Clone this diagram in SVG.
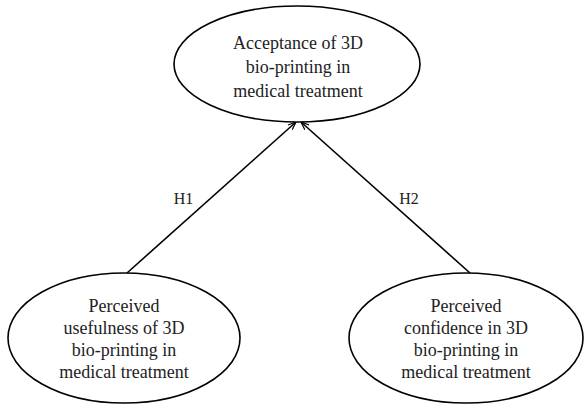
<svg xmlns="http://www.w3.org/2000/svg" width="585" height="406" viewBox="0 0 585 406">
<style>
.node ellipse{fill:#fff;stroke:#000;stroke-width:1.6}
.node text{font-family:"Liberation Serif","Times New Roman",serif;font-size:18px;fill:#222;text-anchor:middle}
.lbl{font-family:"Liberation Serif","Times New Roman",serif;font-size:16px;fill:#222;text-anchor:middle}
.edge{stroke:#000;stroke-width:1.6;fill:none;marker-end:url(#arr)}
</style>
<defs>
<marker id="arr" viewBox="0 0 10 10" refX="10" refY="5" markerWidth="8" markerHeight="8" orient="auto" markerUnits="userSpaceOnUse">
<path d="M0,1 L10,5 L0,9" fill="none" stroke="#000" stroke-width="1.5"/>
</marker>
</defs>
<g id="connectors">
<line class="edge" x1="127" y1="273" x2="296" y2="122"/>
<line class="edge" x1="470" y1="273" x2="301" y2="122"/>
<text class="lbl" transform="translate(183.5,204) scale(1,1.1)">H1</text>
<text class="lbl" transform="translate(409,204) scale(1,1.1)">H2</text>
</g>
<g id="acceptance" class="node">
<ellipse cx="297" cy="64" rx="123" ry="58"/>
<text transform="translate(298,49) scale(1,1.1)">Acceptance of 3D</text>
<text transform="translate(298,73) scale(1,1.1)">bio-printing in</text>
<text transform="translate(298,97) scale(1,1.1)">medical treatment</text>
</g>
<g id="usefulness" class="node">
<ellipse cx="124" cy="338" rx="116" ry="65"/>
<text transform="translate(124,312) scale(1,1.1)">Perceived</text>
<text transform="translate(124,334) scale(1,1.1)">usefulness of 3D</text>
<text transform="translate(124,356) scale(1,1.1)">bio-printing in</text>
<text transform="translate(124,378) scale(1,1.1)">medical treatment</text>
</g>
<g id="confidence" class="node">
<ellipse cx="466" cy="338" rx="117" ry="65"/>
<text transform="translate(466,312) scale(1,1.1)">Perceived</text>
<text transform="translate(466,334) scale(1,1.1)">confidence in 3D</text>
<text transform="translate(466,356) scale(1,1.1)">bio-printing in</text>
<text transform="translate(466,378) scale(1,1.1)">medical treatment</text>
</g>
</svg>
